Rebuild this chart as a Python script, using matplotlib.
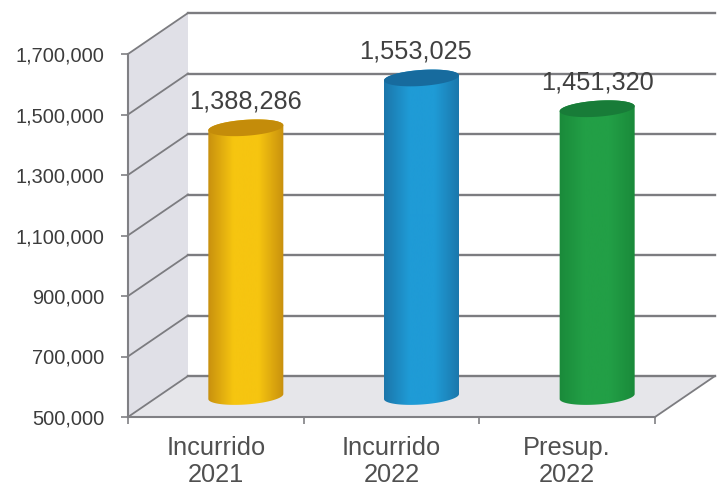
import numpy as np
import matplotlib
matplotlib.use("Agg")
import matplotlib.pyplot as plt
from matplotlib.colors import LinearSegmentedColormap
from matplotlib.patches import Polygon

# Data
categories = ["Incurrido\n2021", "Incurrido\n2022", "Presup.\n2022"]
values = [1388286, 1553025, 1451320]
y_ticks = [500000, 700000, 900000, 1100000, 1300000, 1500000, 1700000]

# edge, centre, cap colours per bar
bar_colors = [("#c8900e", "#f6c510", "#c48c0a"),
              ("#1b76aa", "#1f9bd6", "#176b9e"),
              ("#1a8a3a", "#229f46", "#187c38")]
label_dx = [0, -6, 0]

W, H = 718, 487
fig = plt.figure(figsize=(W / 100, H / 100), dpi=100)
plt.rcParams["font.family"] = ["Liberation Sans", "DejaVu Sans"]

# front plane of the fake 3D box, in pixels
left, right, bottom, top = 128, 655, 417, 54
ax = fig.add_axes([left / W, 1 - bottom / H, (right - left) / W, (bottom - top) / H])
ax.set_xlim(-0.5, 2.5)
ax.set_ylim(500000, 1700000)

# pixel to data scales
sx = 3 / (right - left)
sy = 1200000 / (bottom - top)
depth_x = 60 * sx
depth_y = 41 * sy
ymin = y_ticks[0]
ymax = y_ticks[-1]

# wall and floor
ax.add_patch(Polygon([(-0.5, ymin), (-0.5, ymax), (-0.5 + depth_x, ymax + depth_y),
                      (-0.5 + depth_x, ymin + depth_y)],
                     fc="#e0e0e7", ec="none", clip_on=False, zorder=1))
ax.add_patch(Polygon([(-0.5, ymin), (2.5, ymin), (2.5 + depth_x, ymin + depth_y),
                      (-0.5 + depth_x, ymin + depth_y)],
                     fc="#e6e6ea", ec="none", clip_on=False, zorder=1))

# grid lines on wall and back
grid_col = "#7c7c80"
for v in y_ticks:
    ax.plot([-0.5, -0.5 + depth_x], [v, v + depth_y], color=grid_col, lw=1.3,
            clip_on=False, zorder=2)
    ax.plot([-0.5 + depth_x, 2.5 + depth_x], [v + depth_y, v + depth_y], color=grid_col,
            lw=1.7, clip_on=False, zorder=2)
ax.plot([2.5, 2.5 + depth_x], [ymin, ymin + depth_y], color=grid_col, lw=1.3,
        clip_on=False, zorder=2)


def ellipse(cx, cy, t):
    # slightly tilted ellipse, rises to the right
    px = 37.5 * np.cos(t)
    py = 8 * np.sin(t) + 2.5 * np.cos(t)
    return np.column_stack([cx + px * sx, cy + py * sy])


t_low = np.linspace(np.pi, 2 * np.pi, 60)
t_up = np.linspace(0, np.pi, 60)
t_all = np.linspace(0, 2 * np.pi, 120)
grad = np.linspace(0, 1, 256).reshape(1, -1)

for i, val in enumerate(values):
    edge, mid, cap = bar_colors[i]
    cx = i + depth_x / 2
    base = ymin + depth_y / 2
    tip = val + depth_y / 2
    body = np.vstack([ellipse(cx, base, t_low), ellipse(cx, tip, t_up)])
    cmap = LinearSegmentedColormap.from_list("bar", [edge, mid, mid, edge])
    img = ax.imshow(grad, cmap=cmap, aspect="auto", zorder=3, clip_on=True,
                    extent=(cx - 38 * sx, cx + 38 * sx, ymin, ymax + depth_y))
    clip = Polygon(body, transform=ax.transData)
    img.set_clip_path(clip)
    ax.add_patch(Polygon(ellipse(cx, tip, t_all), fc=cap, ec="none", clip_on=False, zorder=4))
    ax.annotate(f"{val:,}", (cx, tip), xytext=(label_dx[i] * 0.72, 19),
                textcoords="offset points", ha="center", va="center",
                fontsize=18.3, color="#404040", zorder=5, annotation_clip=False)

ax.set_xlim(-0.5, 2.5)
ax.set_ylim(ymin, ymax)

# axes
for s in ("top", "right"):
    ax.spines[s].set_visible(False)
for s in ("left", "bottom"):
    ax.spines[s].set_color("#808084")
    ax.spines[s].set_linewidth(1.5)
    ax.spines[s].set_zorder(6)
ax.patch.set_alpha(0)

ax.set_yticks(y_ticks)
ax.set_yticklabels([f"{v:,}" for v in y_ticks], fontsize=14.4, color="#3c3c3c")
ax.tick_params(axis="y", length=5, width=1.2, color="#808084", pad=12)

ax.set_xticks(range(len(categories)))
ax.set_xticklabels(categories, fontsize=18.3, color="#505050", linespacing=1.15)
ax.set_xticks([-0.5, 0.5, 1.5, 2.5], minor=True)
ax.tick_params(axis="x", which="major", length=0, pad=14)
ax.tick_params(axis="x", which="minor", length=5, width=1.2, color="#808084")

fig.savefig("out.png", dpi=100, facecolor="white")
